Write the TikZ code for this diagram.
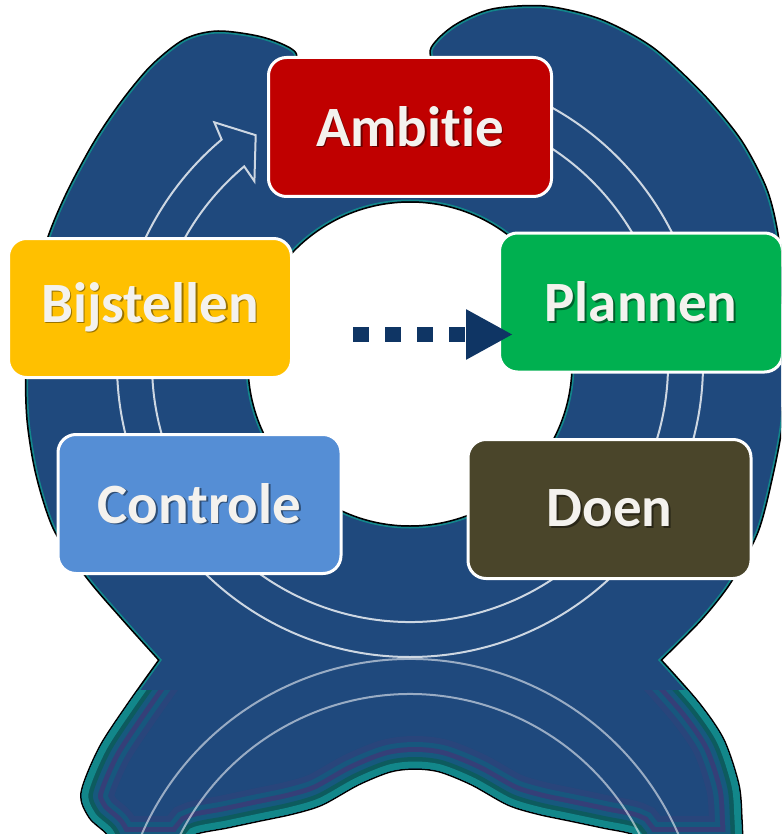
\documentclass[tikz,border=0pt]{standalone}
\usepackage{fontspec}
\setmainfont{Carlito}[Ligatures={NoCommon}]
\usetikzlibrary{arrows.meta}
\definecolor{ringblue}{HTML}{1F497D}
\definecolor{tealedge}{HTML}{12878A}
\definecolor{darkteal}{HTML}{0D5B5E}
\definecolor{purpband}{HTML}{353F78}
\definecolor{ambred}{HTML}{C00000}
\definecolor{bijyel}{HTML}{FFC000}
\definecolor{plangreen}{HTML}{00B050}
\definecolor{ctrlblue}{HTML}{558ED5}
\definecolor{doenolive}{HTML}{4A452A}
\definecolor{arrowc}{HTML}{0F3564}
\definecolor{txtlight}{HTML}{F4F2EE}
\newcommand\boxtext[2]{\leavevmode\rlap{\kern1.5pt\raisebox{-1.5pt}{\textcolor{#1}{#2}}}#2}
\newcommand\RingShape{plot[smooth, tension=0.5] coordinates {(660,660) (700,620) (730,582) (757,532) (772,475) (782,420) (784,360) (782,280) (776,228) (765,187) (740,140) (702,94) (652,48) (600,20) (545,7) (492,10) (455,26) (432,48) (428,75) (360,110) (300,75) (294,52) (262,38) (218,32) (185,40) (152,66) (122,102) (95,142) (68,192) (48,240) (34,300) (27,365) (28,420) (37,475) (55,530) (88,578) (124,620) (160,660)}
 -- plot[smooth, tension=0.5] coordinates {(160,660) (128,705) (100,748) (82,793) (90,817) (107,833) (114,848)}
 -- plot[smooth, tension=0.5] coordinates {(190,848) (194,834) (227,827) (260,820) (293,813) (322,804) (358,784) (390,771) (415,768) (440,771) (472,784) (508,804) (537,813) (570,820) (603,827) (634,834) (638,848)}
 -- plot[smooth, tension=0.5] coordinates {(742,848) (741,820) (738,785) (723,740) (698,703) (660,660)} -- cycle
 (410,364) circle[radius=163]}
\begin{document}
\begin{tikzpicture}[x=1pt,y=-1pt,
  box/.style={rectangle, rounded corners=18, draw=white, line width=3,
    minimum width=283, minimum height=139, inner sep=0, text=txtlight,
    font=\fontsize{57}{60}\selectfont\bfseries},
  arcline/.style={draw=white, draw opacity=0.78, line width=2},
  refarc/.style={draw=white, draw opacity=0.55, line width=2},
  dotarrow/.style={draw=arrowc, line width=15, dash pattern=on 16pt off 16pt,
    -{Triangle[length=47pt,width=47pt]}}]
\useasboundingbox (0,0) rectangle (781,834);
\fill[white] (0,0) rectangle (781,834);
\begin{scope}
\clip (0,0) rectangle (781,834);
% blue ring with its reflection
\draw[black, line width=3.5, even odd rule] \RingShape;
\fill[ringblue, even odd rule] \RingShape;
\begin{scope}[even odd rule]
  \clip \RingShape;
  \begin{scope}
    \clip (0,690) rectangle (781,840);
    \draw[purpband!45!ringblue, line width=64] \RingShape;
    \draw[ringblue!75!teal, line width=52] \RingShape;
    \draw[purpband, line width=42] \RingShape;
    \draw[ringblue!70!teal, line width=32] \RingShape;
    \draw[darkteal, line width=22] \RingShape;
    \draw[tealedge, line width=13] \RingShape;
  \end{scope}
  \draw[tealedge, line width=3] \RingShape;
\end{scope}
% reflected arcs
\draw[refarc] (134.7,851.8) arc[start angle=-160, end angle=-20, radius=293];
\draw[refarc] (167.6,863.8) arc[start angle=-160, end angle=-20, radius=258];
% circular arrow outline
\draw[arcline] (410,71) arc[start angle=-90, end angle=230, radius=293]
  -- (214.3,122.3) -- (255.7,135.2) -- (254.4,181.2) -- (244.2,166.4)
  arc[start angle=230, end angle=-90, radius=258] -- cycle;
% boxes
\node[box, fill=ambred] (ambitie) at (410,127) {\boxtext{ambred!55!black}{Ambitie}};
\node[box, fill=plangreen] (plannen) at (641,302.5) {\boxtext{plangreen!55!black}{Plannen}};
\node[box, fill=bijyel] (bijstellen) at (150,308) {\boxtext{bijyel!60!black}{Bijstellen}};
\node[box, fill=ctrlblue] (controle) at (199.5,504) {\boxtext{ctrlblue!55!black}{Controle}};
\node[box, fill=doenolive] (doen) at (609.5,509) {\boxtext{doenolive!55!black}{Doen}};
% dotted arrow
\coordinate (arrstart) at (353,334.5);
\coordinate (arrtip) at (513,334.5);
\draw[dotarrow] (arrstart) -- (arrtip);
\end{scope}
\end{tikzpicture}
\end{document}
